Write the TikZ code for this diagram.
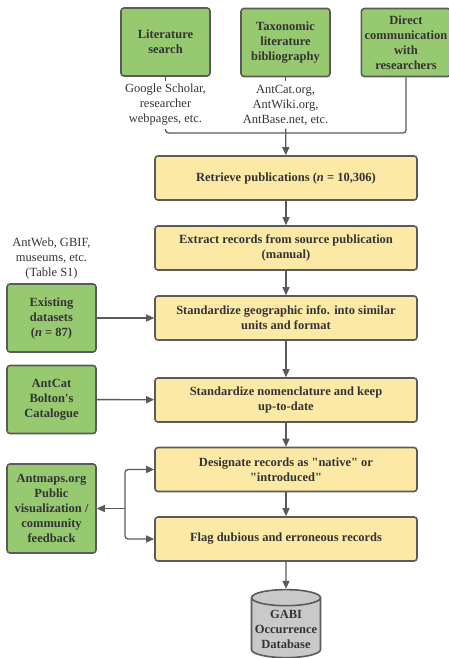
\documentclass[tikz,border=0pt]{standalone}
\usepackage{fontspec}
\setmainfont{Liberation Serif}
\usetikzlibrary{shapes.geometric,arrows.meta}
\definecolor{srcgreen}{HTML}{97C971}
\definecolor{stepyellow}{HTML}{FCE9A6}
\definecolor{dbgray}{HTML}{C9C9C9}
\definecolor{edgegray}{HTML}{5A5A5A}
\definecolor{txtgray}{HTML}{333333}

\begin{document}
\begin{tikzpicture}[x=1pt,y=-1pt,
	every node/.style={font=\fontsize{12.5}{15}\selectfont, text=txtgray, align=center},
	source/.style={draw=edgegray, line width=1.6pt, fill=srcgreen, rounded corners=3pt,
		minimum width=89pt, minimum height=68pt, font=\fontsize{12.5}{15}\selectfont\bfseries},
	process/.style={draw=edgegray, line width=1.6pt, fill=stepyellow, rounded corners=3pt,
		minimum width=262pt, minimum height=44pt, font=\fontsize{12.5}{15}\selectfont\bfseries},
	link/.style={draw=edgegray, line width=1.3pt},
	flow/.style={link, -{Triangle[length=8pt,width=7pt]}}]
	\useasboundingbox (0,0) rectangle (448,658);
	% sources of publications
	\node[source] (litsearch) at (165.5, 42)    {Literature\\search};
	\node[source] (taxbib) at (285.5, 42.5)     {Taxonomic\\literature\\bibliography};
	\node[source] (directcomm) at (406, 42.5)   {Direct\\communication\\with\\researchers};
	\node (litnote) at (165.5, 105)             {Google Scholar,\\researcher\\webpages, etc.};
	\node (taxnote) at (285.5, 105)             {AntCat.org,\\AntWiki.org,\\AntBase.net, etc.};
	\coordinate (merge) at (285.5, 133);
	% processing steps
	\node[process] (retrieve) at (286, 178)     {Retrieve publications (\textit{n} = 10,306)};
	\node[process] (extract) at (286, 248)      {Extract records from source publication\\(manual)};
	\node[process] (geoinfo) at (286, 318)      {Standardize geographic info. into similar\\units and format};
	\node[process] (nomencl) at (286, 400)      {Standardize nomenclature and keep\\up-to-date};
	\node[process] (designate) at (286, 469.5)  {Designate records as \textquotedbl native\textquotedbl{} or\\\textquotedbl introduced\textquotedbl};
	\node[process] (flag) at (286, 539)         {Flag dubious and erroneous records};
	\node[shape=cylinder, shape border rotate=90, aspect=0.25, draw=edgegray, line width=1.6pt,
		fill=dbgray, minimum width=69pt, minimum height=68pt, inner sep=1pt,
		font=\fontsize{12.5}{15}\selectfont\bfseries] (gabi) at (286, 629) {GABI\\Occurrence\\Database};
	% side inputs
	\node (existnote) at (51.5, 258)            {AntWeb, GBIF,\\museums, etc.\\(Table S1)};
	\node[source] (existing) at (51.5, 318)     {Existing\\datasets\\(\textit{n} = 87)};
	\node[source] (antcat) at (51.5, 399.5)     {AntCat\\Bolton\textquotesingle s\\Catalogue};
	\node[source, minimum height=89pt] (antmaps) at (51.5, 508.5) {Antmaps.org\\Public\\visualization /\\community\\feedback};
	\coordinate (fork) at (125, 508.5);
	\draw[link] (litsearch) -- (litnote);
	\draw[link] (taxbib) -- (taxnote);
	\draw[link, rounded corners=3pt] (litnote) |- (merge);
	\draw[link, rounded corners=3pt] (directcomm) |- (merge);
	\path (taxnote) edge[flow] (retrieve);
	\path (retrieve) edge[flow] (extract);
	\path (extract) edge[flow] (geoinfo);
	\path (geoinfo) edge[flow] (nomencl);
	\path (nomencl) edge[flow] (designate);
	\path (designate) edge[flow] (flag);
	\path (flag) edge[flow] (gabi);
	\path (existing) edge[flow] (geoinfo);
	\path (antcat) edge[flow] (nomencl);
	\path (fork) edge[flow] (antmaps);
	\draw[flow, rounded corners=3pt] (fork) |- (designate.west);
	\draw[flow, rounded corners=3pt] (fork) |- (flag.west);
\end{tikzpicture}
\end{document}
